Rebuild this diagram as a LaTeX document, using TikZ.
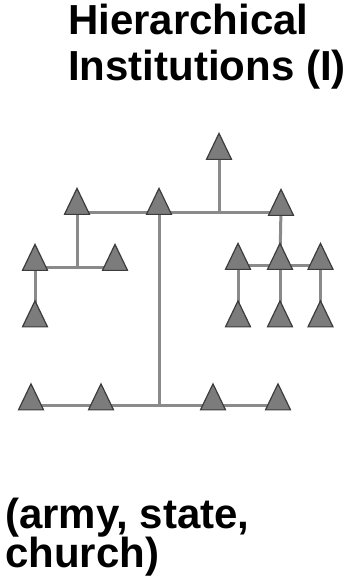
\documentclass[tikz,border=0pt]{standalone}
\usepackage{fontspec}
\setmainfont{Liberation Sans}
\usetikzlibrary{shapes.geometric,backgrounds}
\definecolor{trifill}{HTML}{7C7C7C}
\definecolor{tridraw}{HTML}{3C3C3C}
\definecolor{linkgray}{HTML}{8A8A8A}
\tikzset{
  member/.style={isosceles triangle, isosceles triangle stretches, shape border rotate=90,
    minimum width=25pt, minimum height=26pt, inner sep=0pt, outer sep=0pt,
    fill=trifill, draw=tridraw, line width=1.2pt},
  link/.style={draw=linkgray, line width=3pt},
  label/.style={font=\bfseries\fontsize{42}{46}\selectfont, inner sep=0pt, anchor=base west}
}
\begin{document}
\begin{tikzpicture}[x=1pt,y=-1pt]
\useasboundingbox (0,0) rectangle (350,580);
% titles
\node[label] (t1) at (68,35) {Hierarchical};
\node[label] (t2) at (68,81) {Institutions (I)};
\node[label] (b1) at (5,528) {(army, state,};
\node[label] (b2) at (5,567) {church)};
% members
\node[member] (T0) at (219,151.5) {};
\node[member] (A1) at (77,206.5) {};
\node[member] (A2) at (159,206.5) {};
\node[member] (A3) at (281,207.5) {};
\node[member] (B1) at (35,262.5) {};
\node[member] (B2) at (115,262.5) {};
\node[member] (C1) at (238,261.5) {};
\node[member] (C2) at (280,261.5) {};
\node[member] (C3) at (320.5,261.5) {};
\node[member] (D1) at (35,319) {};
\node[member] (E1) at (238,319) {};
\node[member] (E2) at (280,319) {};
\node[member] (E3) at (320.5,319) {};
\node[member] (F1) at (31,402) {};
\node[member] (F2) at (101,402) {};
\node[member] (F3) at (213,402) {};
\node[member] (F4) at (278,402) {};
% junction levels
\coordinate (jA) at (0,212);
\coordinate (jB) at (0,267);
\coordinate (jC) at (0,265);
\coordinate (jF) at (0,405);
\begin{scope}[on background layer]
  \draw[link] (A1 |- jA) -- (A3 |- jA);
  \draw[link] (T0.center) -- (T0 |- jA);
  \draw[link] (A1.center) -- (A1 |- jB);
  \draw[link] (B1 |- jB) -- (B2 |- jB);
  \draw[link] (B1.center) -- (D1.center);
  \draw[link] (A2.center) -- (A2 |- jF);
  \draw[link] (F1 |- jF) -- (F4 |- jF);
  \draw[link] (A3.center) -- (C2.center);
  \draw[link] (C1 |- jC) -- (C3 |- jC);
  \draw[link] (C1.center) -- (E1.center);
  \draw[link] (C2.center) -- (E2.center);
  \draw[link] (C3.center) -- (E3.center);
\end{scope}
\end{tikzpicture}
\end{document}
